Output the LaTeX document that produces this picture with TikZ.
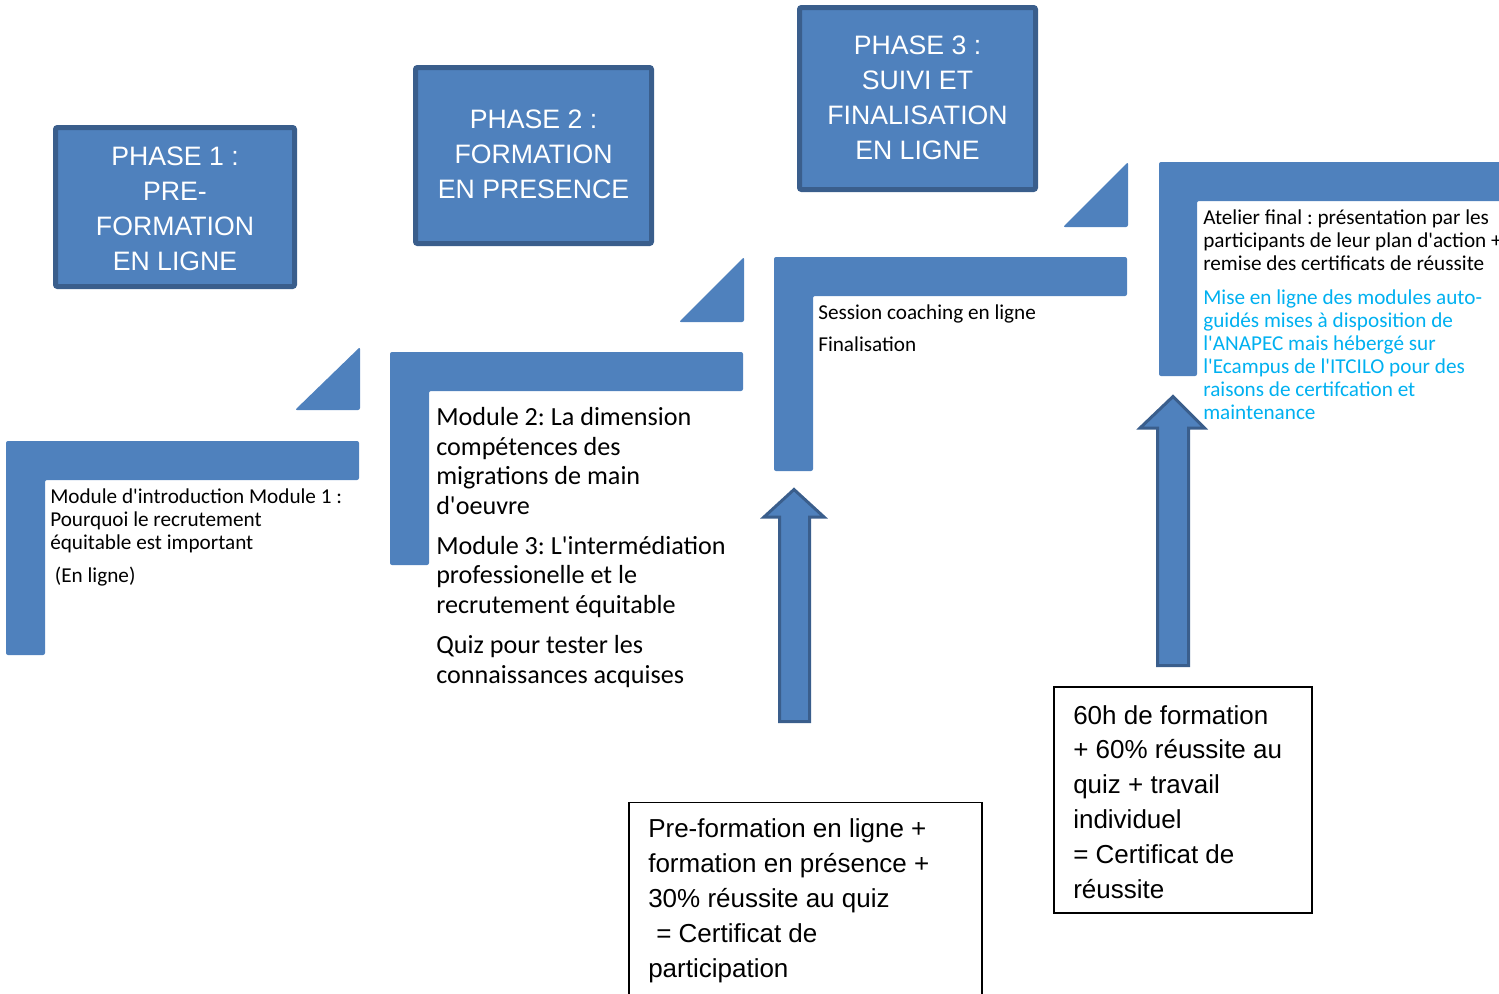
\documentclass[tikz,border=0pt]{standalone}
\usepackage{fontspec}
\setmainfont{Liberation Sans}
\newfontfamily\calfont{Carlito}[Ligatures=TeXOff]
\frenchspacing
\definecolor{fillblue}{HTML}{4F81BD}
\definecolor{edgeblue}{HTML}{3A5E8C}
\definecolor{cyantext}{HTML}{00B0F0}
\tikzset{
  phasebox/.style={fill=fillblue, draw=edgeblue, line width=3.75pt, rounded corners=1.5pt},
  bluepiece/.style={fill=fillblue, rounded corners=1.5pt},
  blockarrow/.style={fill=fillblue, draw=edgeblue, line width=2.25pt, line join=miter},
  resultbox/.style={draw=black, line width=1pt},
  phasetxt/.style={text=white, align=center, inner sep=0pt, font=\fontsize{20pt}{26.25pt}\selectfont},
  smalltxt/.style={align=left, inner sep=0pt, font=\calfont\fontsize{15.9pt}{17.25pt}\selectfont},
  bigtxt/.style={align=left, inner sep=0pt, font=\calfont\fontsize{19.6pt}{22.1pt}\selectfont},
  resulttxt/.style={align=left, inner sep=0pt, font=\fontsize{19.5pt}{26.1pt}\selectfont},
}
\begin{document}
\begin{tikzpicture}[x=0.75pt,y=-0.75pt]
\useasboundingbox (0,0) rectangle (1499,993);
\clip (0,0) rectangle (1499,993);

% phase boxes
\draw[phasebox] (55.5,127.5) rectangle (294.5,286.5);
\draw[phasebox] (415.5,67.5) rectangle (651.5,243.5);
\draw[phasebox] (799.5,7.5) rectangle (1035.5,189.5);
% (anchor base = baseline of the last line)
\node[phasetxt, anchor=base] (p1) at (175,270) {PHASE 1 :\\PRE-\\FORMATION\\EN LIGNE};
\node[phasetxt, anchor=base] (p2) at (533.5,198) {PHASE 2 :\\FORMATION\\EN PRESENCE};
\node[phasetxt, anchor=base] (p3) at (917.5,159) {PHASE 3 :\\SUIVI ET\\FINALISATION\\EN LIGNE};

% triangles
\fill[bluepiece] (295,410) -- (360,410) -- (360,347) -- cycle;
\fill[bluepiece] (679,322) -- (744,322) -- (744,257) -- cycle;
\fill[bluepiece] (1063,227) -- (1128,227) -- (1128,162) -- cycle;

% L-shaped steps
\fill[bluepiece] (6,441) -- (359,441) -- (359,480) -- (45,480) -- (45,655) -- (6,655) -- cycle;
\fill[bluepiece] (390,352) -- (743,352) -- (743,391) -- (429,391) -- (429,565) -- (390,565) -- cycle;
\fill[bluepiece] (774,257) -- (1127,257) -- (1127,296) -- (813,296) -- (813,471) -- (774,471) -- cycle;
\fill[bluepiece] (1159,162) -- (1520,162) -- (1520,201) -- (1197,201) -- (1197,376) -- (1159,376) -- cycle;

% step texts
\node[smalltxt, anchor=base west] (m1) at (50,582) {Module d'introduction Module 1 :\\Pourquoi le recrutement\\équitable est important\\[7.5pt]\hspace*{3.5pt}(En ligne)};
\node[bigtxt, anchor=base west] (m2) at (436,683) {Module 2: La dimension\\compétences des\\migrations de main\\d'oeuvre\\[8pt]Module 3: L'intermédiation\\professionelle et le\\recrutement équitable\\[8pt]Quiz pour tester les\\connaissances acquises};
\node[smalltxt, anchor=base west] (m3) at (818,351) {Session coaching en ligne\\[6.75pt]Finalisation};
\node[smalltxt, anchor=base west] (m4) at (1203,270) {Atelier final : présentation par les\\participants de leur plan d'action +\\remise des certificats de réussite};
\node[smalltxt, anchor=base west, text=cyantext] (m5) at (1203,419) {Mise en ligne des modules auto-\\guidés mises à disposition de\\l'ANAPEC mais hébergé sur\\l'Ecampus de l'ITCILO pour des\\raisons de certifcation et\\maintenance};

% block arrows
\draw[blockarrow] (794,489.5) -- (824,517) -- (809.5,517) -- (809.5,721.5) -- (779.5,721.5) -- (779.5,517) -- (764,517) -- cycle;
\draw[blockarrow] (1173,396.5) -- (1204.5,428) -- (1188.5,428) -- (1188.5,665.5) -- (1157.5,665.5) -- (1157.5,428) -- (1140,428) -- cycle;

% result boxes
\draw[resultbox] (629,802.5) rectangle (982,1000);
\draw[resultbox] (1054,687) rectangle (1312,913);
\node[resulttxt, anchor=base west] (r1) at (648,977) {Pre-formation en ligne +\\formation en présence +\\30\% réussite au quiz\\\hspace*{6pt}= Certificat de\\participation};
\node[resulttxt, anchor=base west] (r2) at (1073,898) {60h de formation\\+ 60\% réussite au\\quiz + travail\\individuel\\= Certificat de\\réussite};
\end{tikzpicture}
\end{document}
